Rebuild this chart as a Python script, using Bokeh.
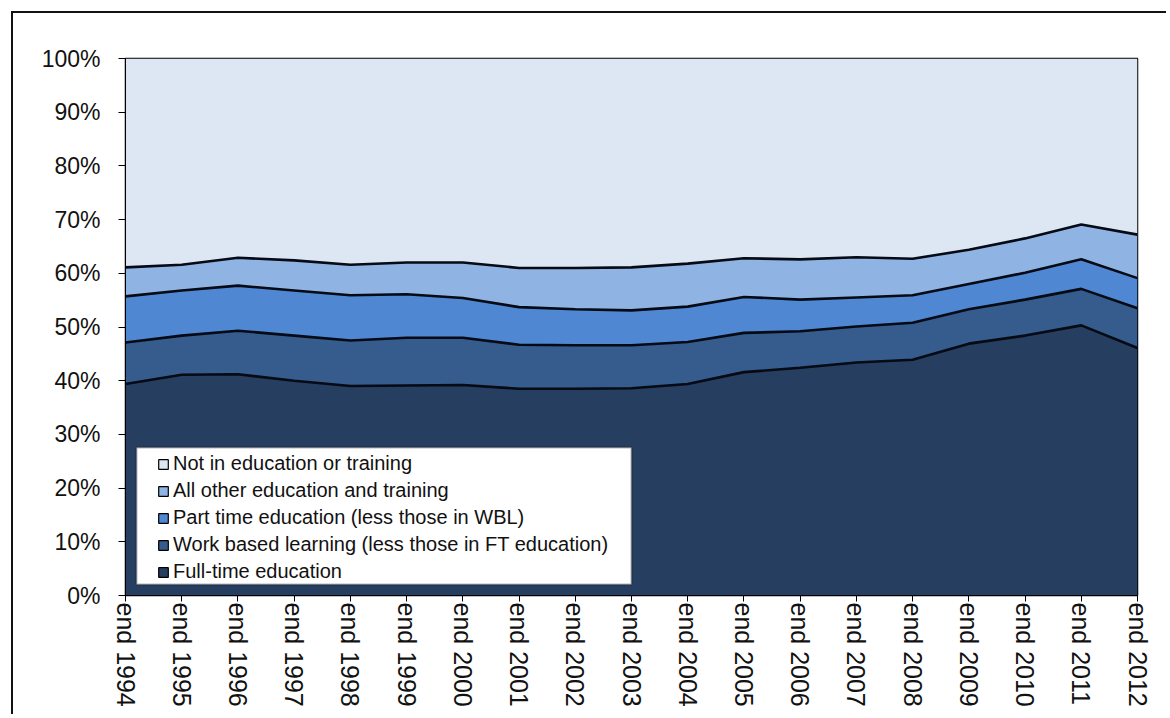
import math
from bokeh.plotting import figure
from bokeh.models import ColumnDataSource, FixedTicker, Range1d, BoxAnnotation
from bokeh.embed import file_html
from bokeh.resources import INLINE

years = list(range(1994, 2013))
tick_labels = [f"end {y}" for y in years]
full_time = [39.4, 41.1, 41.2, 40.0, 39.0, 39.1, 39.2, 38.5, 38.5, 38.6,
             39.4, 41.6, 42.4, 43.4, 43.9, 46.9, 48.4, 50.3, 46.1]
work_based = [7.7, 7.3, 8.1, 8.4, 8.5, 8.9, 8.8, 8.2, 8.1, 8.0,
              7.8, 7.3, 6.8, 6.7, 6.9, 6.4, 6.7, 6.8, 7.4]
part_time = [8.6, 8.4, 8.4, 8.4, 8.4, 8.1, 7.4, 7.0, 6.7, 6.5,
             6.6, 6.7, 5.9, 5.4, 5.1, 4.7, 5.0, 5.5, 5.6]
all_other = [5.4, 4.8, 5.2, 5.6, 5.7, 5.9, 6.6, 7.3, 7.7, 8.0,
             8.0, 7.2, 7.5, 7.5, 6.8, 6.4, 6.4, 6.5, 8.1]
not_in_edu = [38.9, 38.4, 37.1, 37.6, 38.4, 38.0, 38.0, 39.0, 39.0, 38.9,
              38.2, 37.2, 37.4, 37.0, 37.3, 35.6, 33.5, 30.9, 32.8]

series_names = ["Full-time education",
                "Work based learning (less those in FT education)",
                "Part time education (less those in WBL)",
                "All other education and training",
                "Not in education or training"]
colors = ["#263e60", "#355c8c", "#4f87d2", "#8fb3e3", "#dde6f3"]
y_ticks = list(range(0, 101, 10))
y_tick_labels = [f"{t}%" for t in y_ticks]

series = [full_time, work_based, part_time, all_other, not_in_edu]
FONT = "Liberation Sans"

p = figure(width=1155, height=703, output_backend="svg", toolbar_location=None,
           x_range=Range1d(1994, 2012), y_range=Range1d(0, 100),
           min_border_left=112, min_border_right=31, min_border_top=45,
           min_border_bottom=121)
# outer chart frame: top and left edges, offset from the page corner
p.margin = (11, 0, 0, 11)
p.styles = {"border-top": "2px solid #111111",
            "border-left": "2px solid #111111"}

p.xgrid.visible = False
p.ygrid.visible = False
p.outline_line_color = "black"
p.outline_line_width = 1.5

# stacked areas
base = [0.0] * len(years)
tops = []
for vals, c in zip(series, colors):
    top = [b + v for b, v in zip(base, vals)]
    src = ColumnDataSource(dict(x=years, y1=base, y2=top))
    p.varea(x="x", y1="y1", y2="y2", source=src, fill_color=c)
    tops.append(top)
    base = top

# black boundary lines between layers
for top in tops[:4]:
    p.line(x=years, y=top, line_color="#050a14", line_width=2.6)

# axes
p.xaxis.ticker = FixedTicker(ticks=years)
p.xaxis.major_label_overrides = {y: lab for y, lab in zip(years, tick_labels)}
p.xaxis.major_label_orientation = -math.pi / 2
p.xaxis.major_label_text_font_size = "25px"
p.xaxis.major_label_standoff = 1
p.xaxis.major_tick_out = 6

p.yaxis.ticker = FixedTicker(ticks=y_ticks)
p.yaxis.major_label_overrides = {t: lab for t, lab in zip(y_ticks, y_tick_labels)}
p.yaxis.major_label_text_font_size = "23px"
p.yaxis.major_label_standoff = 18
p.yaxis.major_tick_out = 7

for ax in (p.xaxis[0], p.yaxis[0]):
    ax.minor_tick_line_color = None
    ax.major_tick_in = 0
    ax.major_label_text_font = FONT
    ax.major_label_text_color = "#111111"
    ax.axis_line_color = "black"
    ax.major_tick_line_color = "black"

# white legend panel
p.add_layout(BoxAnnotation(left=11, right=506, top=148, bottom=11,
                           left_units="screen", right_units="screen",
                           top_units="screen", bottom_units="screen",
                           fill_color="white", fill_alpha=1,
                           line_color="#111111", line_width=2))

# legend swatches (outlined squares), listed top layer first; the swatch
# glyphs themselves sit outside the visible range
for name, c in list(zip(series_names, colors))[::-1]:
    p.quad(left=[1980], right=[1981], top=[-20], bottom=[-21], fill_color=c,
           line_color="black", line_width=1.2, legend_label=name)

lg = p.legend[0]
lg.location = (32, 12)
lg.padding = 0
lg.margin = 0
lg.spacing = 4
lg.label_height = 20
lg.glyph_width = 12
lg.glyph_height = 12
lg.label_standoff = 4
lg.label_text_font = FONT
lg.label_text_font_size = "20px"
lg.label_text_color = "#111111"
lg.background_fill_alpha = 0
lg.border_line_alpha = 0

open("out.html", "w").write(file_html(p, INLINE))
